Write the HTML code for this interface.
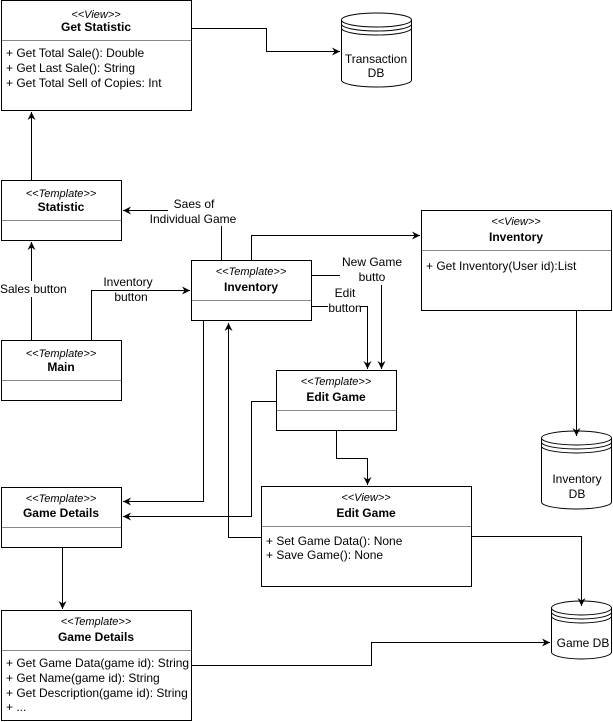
<!DOCTYPE html>
<html><head><meta charset="utf-8"><style>
html,body{margin:0;padding:0;background:#fff;}
svg{display:block;font-family:"Liberation Sans",Arial,sans-serif;font-size:12px;}
</style></head><body>
<svg width="613" height="722" viewBox="0 0 613 722" xmlns="http://www.w3.org/2000/svg">
<defs>
<marker id="a" markerWidth="10" markerHeight="10" refX="8" refY="4" orient="auto" markerUnits="userSpaceOnUse">
<path d="M0,0 L8,4 L0,8 L2.5,4 Z" fill="#000"/></marker>
</defs>
<g fill="#fff" stroke="#000" stroke-width="1">
<rect x="1.5" y="0.5" width="190" height="110"/>
<rect x="1.5" y="180.5" width="120" height="60"/>
<rect x="1.5" y="340.5" width="120" height="60"/>
<rect x="191.5" y="260.5" width="120" height="60"/>
<rect x="421.5" y="210.5" width="190" height="100"/>
<rect x="276.5" y="370.5" width="120" height="60"/>
<rect x="1.5" y="487.5" width="120" height="60"/>
<rect x="261.5" y="486.5" width="210" height="100"/>
<rect x="1.5" y="610.5" width="190" height="110"/>
</g>
<g stroke="#888" stroke-width="1">
<line x1="2" y1="40.5" x2="191" y2="40.5"/>
<line x1="2" y1="220.5" x2="121" y2="220.5"/>
<line x1="2" y1="380.5" x2="121" y2="380.5"/>
<line x1="192" y1="300.5" x2="311" y2="300.5"/>
<line x1="422" y1="250.5" x2="611" y2="250.5"/>
<line x1="277" y1="410.5" x2="396" y2="410.5"/>
<line x1="2" y1="527.5" x2="121" y2="527.5"/>
<line x1="262" y1="526.5" x2="471" y2="526.5"/>
<line x1="2" y1="650.5" x2="191" y2="650.5"/>
</g>
<g fill="#fff" stroke="#000">
<path d="M341.5,20 a35,7 0 0 1 70,0 v60 a35,7 0 0 1 -70,0 Z"/>
<path d="M341.5,20 a35,7 0 0 0 70,0 M341.5,24 a35,7 0 0 0 70,0 M341.5,28 a35,7 0 0 0 70,0" fill="none"/>
<path d="M541.5,438 a35,7 0 0 1 70,0 v64 a35,7 0 0 1 -70,0 Z"/>
<path d="M541.5,438 a35,7 0 0 0 70,0 M541.5,442 a35,7 0 0 0 70,0 M541.5,446 a35,7 0 0 0 70,0" fill="none"/>
<path d="M551.5,608 a30,7 0 0 1 60,0 v44 a30,7 0 0 1 -60,0 Z"/>
<path d="M551.5,608 a30,7 0 0 0 60,0 M551.5,612 a30,7 0 0 0 60,0 M551.5,616 a30,7 0 0 0 60,0" fill="none"/>
</g>
<g fill="none" stroke="#000" stroke-width="1" marker-end="url(#a)">
<path d="M191,28.5 H266.5 V51.5 H340"/>
<path d="M31.5,180 V112"/>
<path d="M31.5,340 V242"/>
<path d="M91.5,340 V290.5 H190"/>
<path d="M168,210.5 H123"/>
<path d="M251.5,260 V235.5 H420"/>
<path d="M381.5,285 V369"/>
<path d="M360,306.5 H367.5 V369"/>
<path d="M203.5,320 V501.5 H123"/>
<path d="M276,401.5 H251.5 V516.5 H123"/>
<path d="M261,537.5 H228.5 V323"/>
<path d="M336.5,430 V458.5 H367.5 V485"/>
<path d="M576.5,310 V436"/>
<path d="M471,536.5 H581.5 V606"/>
<path d="M62.5,547 V609"/>
<path d="M191,665.5 H371.5 V642.5 H550"/>
</g>
<g fill="none" stroke="#000" stroke-width="1">
<path d="M311,275.5 H340"/>
<path d="M311,306.5 H328"/>
<path d="M221.5,260 V226"/>
</g>
<g text-anchor="middle" fill="#000">
<text x="96" y="18" font-style="italic" font-size="11">&lt;&lt;View&gt;&gt;</text>
<text x="96" y="31" font-weight="bold">Get Statistic</text>
<text x="61" y="197" font-style="italic" font-size="11">&lt;&lt;Template&gt;&gt;</text>
<text x="61" y="211" font-weight="bold">Statistic</text>
<text x="61" y="357" font-style="italic" font-size="11">&lt;&lt;Template&gt;&gt;</text>
<text x="61" y="371" font-weight="bold">Main</text>
<text x="251" y="275" font-style="italic" font-size="11">&lt;&lt;Template&gt;&gt;</text>
<text x="251" y="291" font-weight="bold">Inventory</text>
<text x="516" y="225" font-style="italic" font-size="11">&lt;&lt;View&gt;&gt;</text>
<text x="516" y="241" font-weight="bold">Inventory</text>
<text x="336" y="385" font-style="italic" font-size="11">&lt;&lt;Template&gt;&gt;</text>
<text x="336" y="401" font-weight="bold">Edit Game</text>
<text x="61" y="502" font-style="italic" font-size="11">&lt;&lt;Template&gt;&gt;</text>
<text x="61" y="517" font-weight="bold">Game Details</text>
<text x="366" y="501" font-style="italic" font-size="11">&lt;&lt;View&gt;&gt;</text>
<text x="366" y="517" font-weight="bold">Edit Game</text>
<text x="96" y="625" font-style="italic" font-size="11">&lt;&lt;Template&gt;&gt;</text>
<text x="96" y="641" font-weight="bold">Game Details</text>
<text x="376" y="63">Transaction</text>
<text x="376" y="77">DB</text>
<text x="577" y="483">Inventory</text>
<text x="577" y="498">DB</text>
<text x="583" y="647">Game DB</text>
<text x="194" y="208">Saes of</text>
<text x="193" y="223">Individual Game</text>
<text x="128" y="286">Inventory</text>
<text x="131" y="301">button</text>
<text x="372" y="266">New Game</text>
<text x="372" y="281">butto</text>
<text x="345" y="297">Edit</text>
<text x="345" y="312">button</text>
</g>
<g fill="#000">
<rect x="0" y="281" width="68" height="16" fill="#fff"/>
<text x="0" y="293">Sales button</text>
<text x="6" y="57">+ Get Total Sale(): Double</text>
<text x="6" y="72">+ Get Last Sale(): String</text>
<text x="6" y="87">+ Get Total Sell of Copies: Int</text>
<text x="426" y="270">+ Get Inventory(User id):List</text>
<text x="266" y="545">+ Set Game Data(): None</text>
<text x="266" y="559">+ Save Game(): None</text>
<text x="6" y="667">+ Get Game Data(game id): String</text>
<text x="6" y="682">+ Get Name(game id): String</text>
<text x="6" y="697">+ Get Description(game id): String</text>
<text x="6" y="711">+ ...</text>
</g>
</svg>
</body></html>
